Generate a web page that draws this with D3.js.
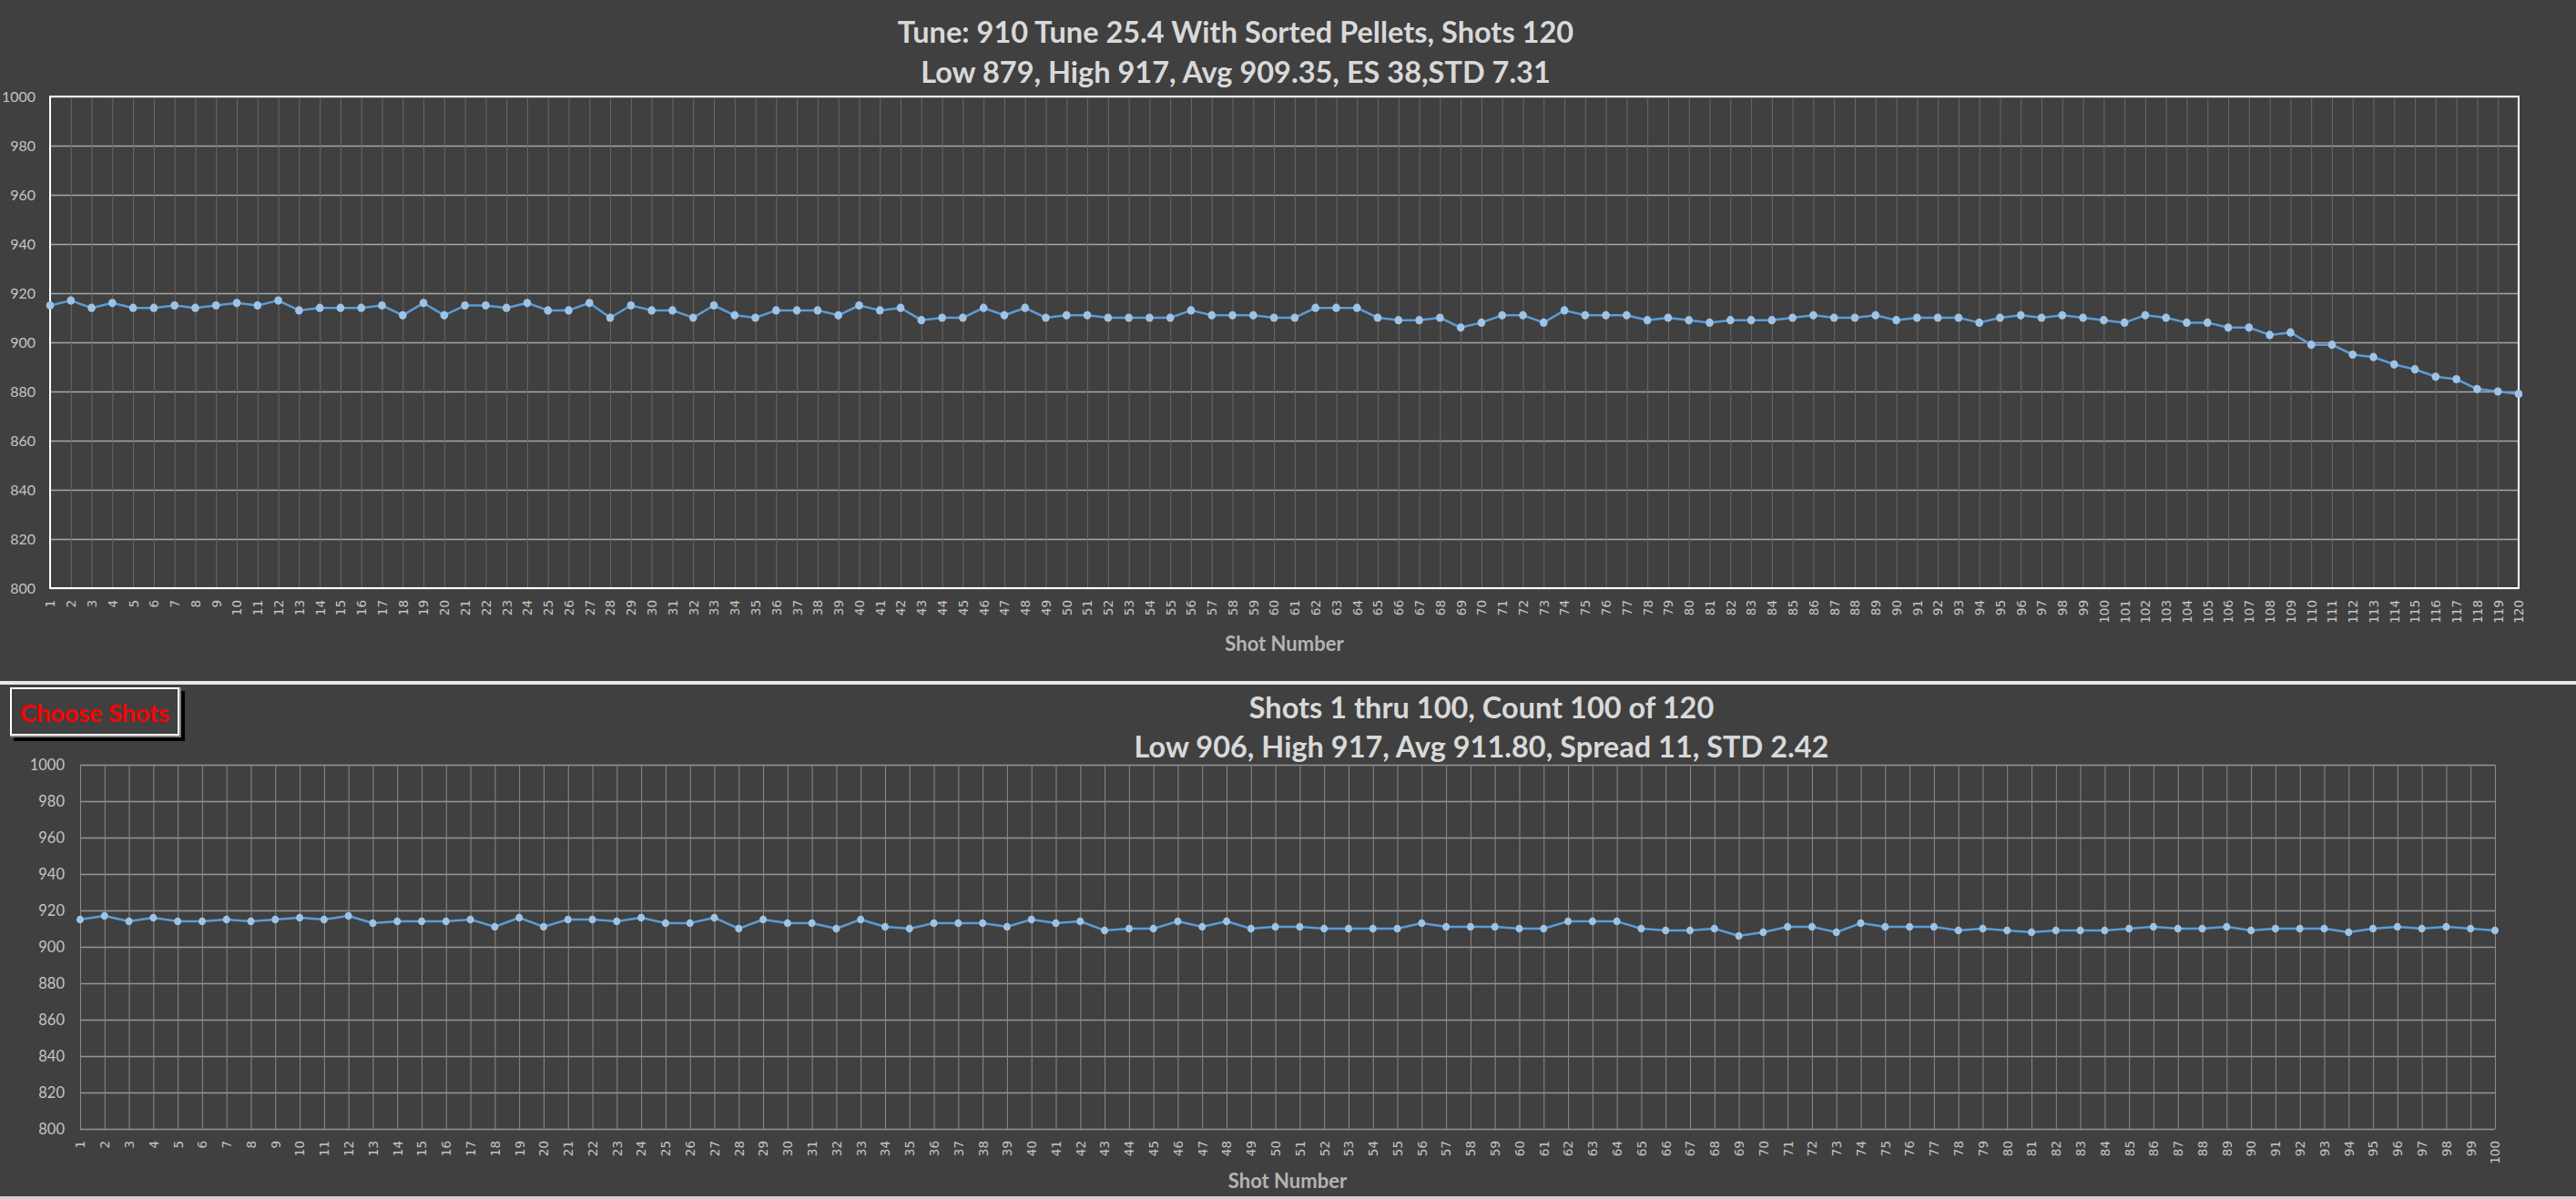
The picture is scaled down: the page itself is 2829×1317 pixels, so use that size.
<!DOCTYPE html>
<html>
<head>
<style>
  body { margin: 0; background: #404040; }
  svg { display: block; }
  .title { font-family: Lato, "Open Sans", sans-serif; font-weight: bold; fill: #d9d9d9; text-anchor: middle; }
  .axis-title { font-family: Lato, sans-serif; font-weight: bold; fill: #b4b4b4; font-size: 22px; text-anchor: middle; }
  .yaxis text { font-family: Lato, sans-serif; fill: #c4c4c4; }
  .xaxis text { font-family: "DejaVu Sans", sans-serif; fill: #c4c4c4; font-size: 13.5px; }
</style>
</head>
<body>
<script src="https://d3js.org/d3.v7.min.js"></script>
<script>
// velocities, one per shot
const velocities = [
  915, 917, 914, 916, 914, 914, 915, 914, 915, 916,
  915, 917, 913, 914, 914, 914, 915, 911, 916, 911,
  915, 915, 914, 916, 913, 913, 916, 910, 915, 913,
  913, 910, 915, 911, 910, 913, 913, 913, 911, 915,
  913, 914, 909, 910, 910, 914, 911, 914, 910, 911,
  911, 910, 910, 910, 910, 913, 911, 911, 911, 910,
  910, 914, 914, 914, 910, 909, 909, 910, 906, 908,
  911, 911, 908, 913, 911, 911, 911, 909, 910, 909,
  908, 909, 909, 909, 910, 911, 910, 910, 911, 909,
  910, 910, 910, 908, 910, 911, 910, 911, 910, 909,
  908, 911, 910, 908, 908, 906, 906, 903, 904, 899,
  899, 895, 894, 891, 889, 886, 885, 881, 880, 879
];
const shots = d3.range(1, velocities.length + 1);
const selectedShots = shots.slice(0, 100);
const yTicks = [800, 820, 840, 860, 880, 900, 920, 940, 960, 980, 1000];

const topTitle = ['Tune: 910 Tune 25.4 With Sorted Pellets, Shots 120',
                  'Low 879, High 917, Avg 909.35, ES 38,STD 7.31'];
const bottomTitle = ['Shots 1 thru 100, Count 100 of 120',
                     'Low 906, High 917, Avg 911.80, Spread 11, STD 2.42'];
const xTitle = 'Shot Number';
const buttonLabel = 'Choose Shots';

const W = 2829, H = 1317;
const svg = d3.select('body').append('svg')
  .attr('width', W).attr('height', H);

svg.append('rect').attr('width', W).attr('height', H).attr('fill', '#404040');

function drawChart(g, cfg) {
  const x = d3.scalePoint().domain(cfg.shots).range([cfg.left, cfg.right]);
  const y = d3.scaleLinear().domain([800, 1000]).range([cfg.bottom, cfg.top]);

  // horizontal grid
  g.append('g')
    .attr('transform', `translate(${cfg.left},0)`)
    .call(d3.axisLeft(y).tickValues(yTicks).tickSize(-(cfg.right - cfg.left)).tickFormat(''))
    .call(a => a.select('.domain').remove())
    .selectAll('line').attr('stroke', cfg.hGrid).attr('stroke-width', cfg.hWidth);

  // vertical grid, one per shot
  g.append('g')
    .attr('transform', `translate(0,${cfg.bottom})`)
    .call(d3.axisBottom(x).tickSize(-(cfg.bottom - cfg.top)).tickFormat(''))
    .call(a => a.select('.domain').remove())
    .selectAll('line').attr('stroke', cfg.vGrid).attr('stroke-width', 1);

  if (cfg.border) {
    g.append('rect')
      .attr('x', cfg.left).attr('y', cfg.top)
      .attr('width', cfg.right - cfg.left).attr('height', cfg.bottom - cfg.top)
      .attr('fill', 'none').attr('stroke', '#ffffff').attr('stroke-width', 2);
  }

  // y labels
  g.append('g')
    .attr('class', 'yaxis')
    .attr('transform', `translate(${cfg.left},0)`)
    .call(d3.axisLeft(y).tickValues(yTicks).tickSize(0).tickPadding(cfg.yPad).tickFormat(d3.format('d')))
    .call(a => a.select('.domain').remove())
    .selectAll('text').style('font-size', cfg.yFont + 'px');

  // x labels, rotated
  g.append('g')
    .attr('class', 'xaxis')
    .attr('transform', `translate(0,${cfg.bottom})`)
    .call(d3.axisBottom(x).tickSize(0))
    .call(a => a.select('.domain').remove())
    .selectAll('text')
    .attr('transform', 'rotate(-90)')
    .attr('x', -13).attr('y', 0).attr('dy', '0.36em')
    .style('text-anchor', 'end');

  const pts = cfg.shots.map(s => ({ s, v: velocities[s - 1] }));

  g.append('path')
    .datum(pts)
    .attr('fill', 'none')
    .attr('stroke', '#5b9bd5')
    .attr('stroke-width', 2.5)
    .attr('stroke-linejoin', 'round')
    .attr('d', d3.line().x(d => x(d.s)).y(d => y(d.v)));

  g.append('g').selectAll('ellipse')
    .data(pts)
    .join('ellipse')
    .attr('cx', d => x(d.s)).attr('cy', d => y(d.v))
    .attr('rx', cfg.r).attr('ry', cfg.r + 0.3)
    .attr('fill', '#9dc3e6');

  g.append('text').attr('class', 'title')
    .attr('x', cfg.titleX).attr('y', cfg.titleY[0])
    .style('font-size', '32.5px').text(cfg.title[0]);
  g.append('text').attr('class', 'title')
    .attr('x', cfg.titleX).attr('y', cfg.titleY[1])
    .style('font-size', '32.5px').text(cfg.title[1]);

  g.append('text').attr('class', 'axis-title')
    .attr('x', (cfg.left + cfg.right) / 2).attr('y', cfg.xTitleY)
    .text(xTitle);
}

drawChart(svg.append('g'), {
  shots, left: 55, right: 2766, top: 106, bottom: 646,
  hGrid: '#a6a6a6', hWidth: 1.5, vGrid: '#686868', border: true,
  yPad: 16, yFont: 16, r: 4.3,
  title: topTitle, titleX: 1357, titleY: [47, 91], xTitleY: 715
});

// separator between the panels
svg.append('rect').attr('x', 0).attr('y', 748).attr('width', W).attr('height', 4).attr('fill', '#e6e6e6');

drawChart(svg.append('g'), {
  shots: selectedShots, left: 88, right: 2740, top: 840, bottom: 1240,
  hGrid: '#959595', hWidth: 1.3, vGrid: '#8a8a8a', border: false,
  yPad: 17, yFont: 16.5, r: 4,
  title: bottomTitle, titleX: 1627, titleY: [789, 832], xTitleY: 1305
});

svg.append('rect').attr('x', 0).attr('y', 1314).attr('width', W).attr('height', 3).attr('fill', '#d0d0d0');

// button
const btn = svg.append('g');
btn.append('rect').attr('x', 15).attr('y', 759).attr('width', 188).attr('height', 55).attr('fill', '#000');
btn.append('rect').attr('x', 11).attr('y', 755).attr('width', 188).attr('height', 55).attr('fill', '#808080');
btn.append('rect').attr('x', 12).attr('y', 756).attr('width', 184).attr('height', 51)
  .attr('fill', '#404040').attr('stroke', '#ffffff').attr('stroke-width', 2);
btn.append('text')
  .attr('x', 104).attr('y', 793)
  .attr('text-anchor', 'middle')
  .style('font-family', 'Lato, sans-serif').style('font-weight', 'bold')
  .style('font-size', '27px').attr('fill', '#ff0000')
  .text(buttonLabel);
</script>
</body>
</html>
